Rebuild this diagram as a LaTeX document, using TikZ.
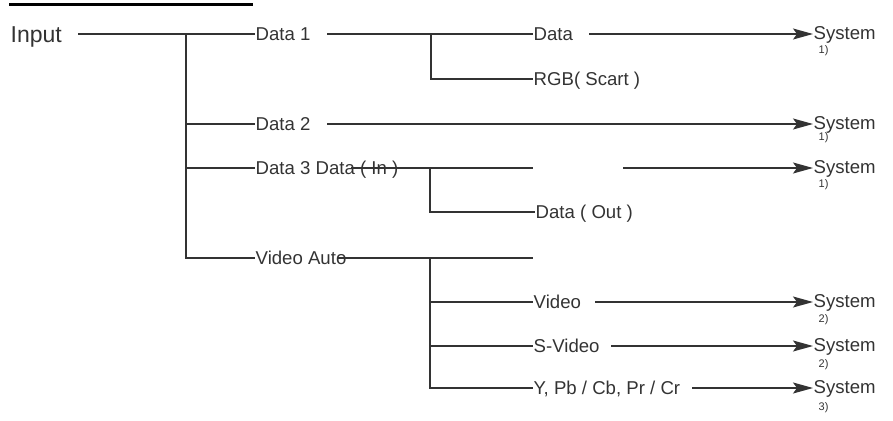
\documentclass[tikz,border=0pt]{standalone}
\usepackage{fontspec}
\setmainfont{Liberation Sans}
\usetikzlibrary{arrows.meta}

\begin{document}
\begin{tikzpicture}[
  x=1pt, y=-1pt,
  line width=1.4pt, draw=black!80,
  label/.style={font=\fontsize{18.6}{21}\selectfont, text=black!80, anchor=west,
    inner sep=0pt, text height=13.2pt, text depth=0pt},
  sysbox/.style={label, yshift=1.5pt},
  note/.style={font=\fontsize{11}{12}\selectfont, text=black!80, anchor=west, inner sep=0pt},
  arr/.style={-{Stealth[length=20pt, width=11pt, inset=4pt]}},
]

% Column positions
\def\trunkx{186}   % main trunk
\def\textx{255}    % first level labels
\def\subx{430}     % second level trunk
\def\outx{533}     % second level labels
\def\sysx{813}     % System column

\useasboundingbox (0,0) rectangle (893,420);

% ============================================================
% HEADER RULE AND INPUT
% ============================================================
\draw[line width=3pt, black] (9,5) -- (253,5);

\node[label, font=\fontsize{23}{25}\selectfont, text height=16pt] (input) at (10,35) {Input};

% ============================================================
% FIRST LEVEL
% ============================================================
\node[label] (data1) at (\textx, 34)  {Data 1};
\node[label] (data2) at (\textx, 124) {Data 2};
\node[label] (data3) at (\textx, 168) {Data 3 Data ( In )};
\node[label] (vauto) at (\textx, 258) {Video Auto};

\coordinate (in0) at (78,34);
\coordinate (trunk) at (\trunkx,34);
\draw (in0) -- (data1.west);
\draw (trunk) |- (data2.west);
\draw (trunk) |- (data3.west);
\draw (trunk) |- (vauto.west);

% ============================================================
% SECOND LEVEL
% ============================================================
\node[label] (dat)    at (\outx, 34)  {Data};
\node[label] (rgb)    at (\outx, 79)  {RGB( Scart )};
\node[label] (dout)   at (\outx+2, 212) {Data ( Out )};
\node[label] (video)  at (\outx, 302) {Video};
\node[label] (svideo) at (\outx, 346) {S-Video};
\node[label] (ycc)    at (\outx, 388) {Y, Pb / Cb, Pr / Cr};

% Data 1 branch
\coordinate (d1o) at (327,34);
\coordinate (b1) at (\subx+1,34);
\draw (d1o) -- (dat.west);
\draw (b1) |- (rgb.west);

% Data 3 branch
\coordinate (d3o) at (351,168);
\coordinate (d3e) at (\outx,168);
\coordinate (b3) at (\subx,168);
\draw (d3o) -- (d3e);
\draw (b3) |- (dout.west);

% Video Auto branch
\coordinate (vo) at (338,258);
\coordinate (ve) at (\outx,258);
\coordinate (b4) at (\subx,258);
\draw (vo) -- (ve);
\draw (b4) |- (video.west);
\draw (b4) |- (svideo.west);
\draw (b4) |- (ycc.west);

% ============================================================
% SYSTEM OUTPUTS
% ============================================================
\node[sysbox] (sys1) at (\sysx, 34)  {System};
\node[sysbox] (sys2) at (\sysx, 124) {System};
\node[sysbox] (sys3) at (\sysx, 168) {System};
\node[sysbox] (sys4) at (\sysx, 302) {System};
\node[sysbox] (sys5) at (\sysx, 346) {System};
\node[sysbox] (sys6) at (\sysx, 388) {System};

\node[note] (n1) at (818, 51)  {1)};
\node[note] (n2) at (818, 138) {1)};
\node[note] (n3) at (818, 185) {1)};
\node[note] (n4) at (818, 320) {2)};
\node[note] (n5) at (818, 365) {2)};
\node[note] (n6) at (818, 408) {3)};

\coordinate (a1) at (589,34);
\coordinate (a2) at (327,124);
\coordinate (a3) at (623,168);
\coordinate (a4) at (595,302);
\coordinate (a5) at (611,346);
\coordinate (a6) at (692,388);
\foreach \i in {1,...,6}
  \draw[arr] (a\i) -- (a\i -| sys\i.west);

\end{tikzpicture}
\end{document}
